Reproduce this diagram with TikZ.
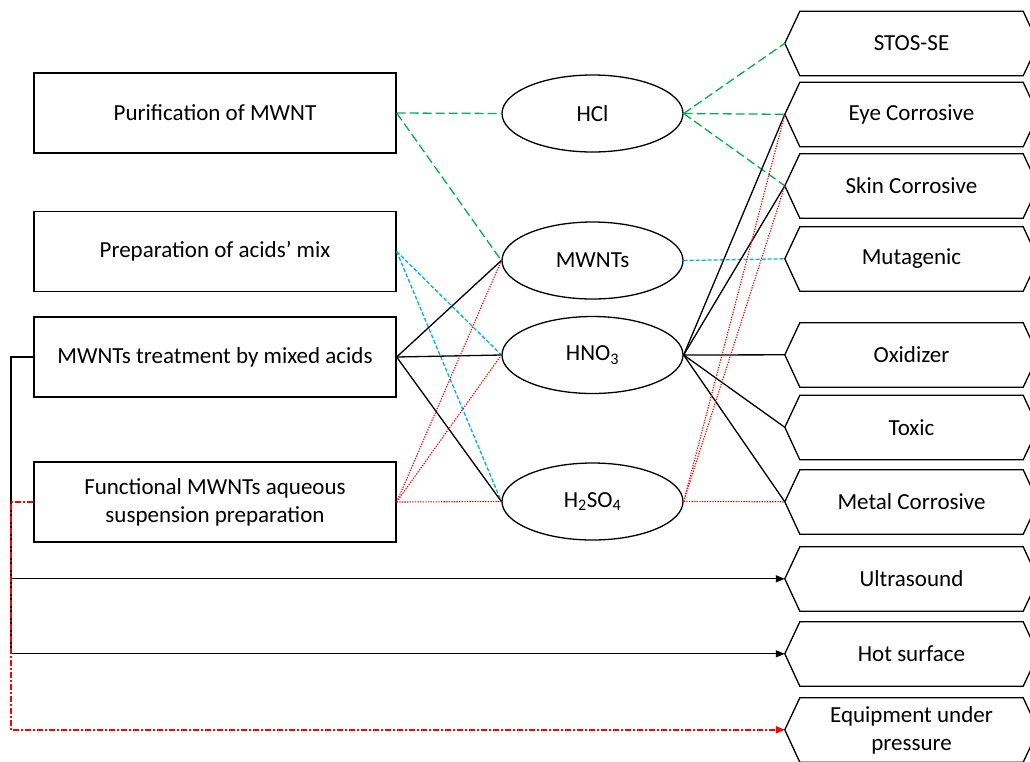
\documentclass[tikz,border=0pt]{standalone}
\usepackage{fontspec}
\setmainfont{Carlito}
\usetikzlibrary{arrows.meta,shapes.geometric}

\definecolor{linkgreen}{HTML}{00B050}
\definecolor{linkblue}{HTML}{00B0F0}
\definecolor{linkred}{HTML}{FF0000}

\begin{document}
\begin{tikzpicture}[x=1pt,y=-1pt,
  every node/.style={font=\fontsize{23}{28}\selectfont},
  stepbox/.style={draw, line width=1.3pt, minimum width=362pt, minimum height=80pt,
    inner sep=0pt, align=center},
  agent/.style={draw, ellipse, line width=1.3pt, minimum width=181pt,
    minimum height=77pt, inner sep=0pt},
  hazard/.style={minimum width=223pt, minimum height=64pt, inner sep=0pt, align=center},
  hexline/.style={line width=1.3pt, line join=miter},
  solidlink/.style={line width=1.3pt},
  greenlink/.style={linkgreen, line width=1.3pt, dash pattern=on 9pt off 4pt},
  bluelink/.style={linkblue, line width=1.3pt, dash pattern=on 4pt off 2pt},
  redlink/.style={linkred, line width=1.1pt, dash pattern=on 1.3pt off 1.3pt},
  redchain/.style={linkred, line width=2pt, dash pattern=on 6pt off 2pt on 2pt off 2pt},
  tip/.style={-{Triangle[length=9pt,width=7pt]}}]

\useasboundingbox (0,0) rectangle (1030,761);
\clip (0,0) rectangle (1030,761);

% process steps
\node[stepbox] (purif) at (215,113)   {Purification of MWNT};
\node[stepbox] (prep)  at (215,251.5) {Preparation of acids’ mix};
\node[stepbox] (treat) at (215,357)   {MWNTs treatment by mixed acids};
\node[stepbox] (func)  at (215,502)   {Functional MWNTs aqueous\\suspension preparation};

% chemical agents
\node[agent] (hcl)   at (592.5,113.5) {HCl};
\node[agent] (mwnt)  at (592.5,260.5) {MWNTs};
\node[agent] (hno)   at (592.5,355)   {HNO\textsubscript{3}};
\node[agent] (hso)   at (592.5,501.5) {H\textsubscript{2}SO\textsubscript{4}};

% hazards (hexagonal tags)
\foreach \n/\y/\t in {stos/43.5/STOS-SE, eye/114.5/Eye Corrosive,
    skin/186/Skin Corrosive, mut/259/Mutagenic, oxi/355/Oxidizer,
    tox/427.5/Toxic, metal/502/Metal Corrosive, ultra/579/Ultrasound,
    hot/654/Hot surface, equip/730/Equipment under\\pressure}{
  \node[hazard] (\n) at (911.5,\y) {\t};
  \draw[hexline] (\n.north west) -- ++(-15,32) coordinate (\n-in)
    -- (\n.south west) -- (\n.south east) -- ++(15,-32) -- (\n.north east) -- cycle;
}

% purification route
\draw[greenlink] (purif.east) -- (hcl.west);
\draw[greenlink] (purif.east) -- (mwnt.west);
\draw[greenlink] (hcl.east) -- (stos-in);
\draw[greenlink] (hcl.east) -- (eye-in);
\draw[greenlink] (hcl.east) -- (skin-in);

% acid mix preparation
\draw[bluelink] (prep.east) -- (hno.west);
\draw[bluelink] (prep.east) -- (hso.west);
\draw[bluelink] (mwnt.east) -- (mut-in);

% acid treatment
\draw[solidlink] (treat.east) -- (mwnt.west);
\draw[solidlink] (treat.east) -- (hno.west);
\draw[solidlink] (treat.east) -- (hso.west);
\foreach \h in {eye,skin,oxi,tox,metal}
  \draw[solidlink] (hno.east) -- (\h-in);

% aqueous suspension
\draw[redlink] (func.east) -- (mwnt.west);
\draw[redlink] (func.east) -- (hno.west);
\draw[redlink] (func.east) -- (hso.west);
\foreach \h in {eye,skin,metal}
  \draw[redlink] (hso.east) -- (\h-in);

% physical hazards fed from the left rail
\coordinate (rail) at (11,0);
\draw[solidlink,tip] (treat.west) -| (rail |- hot-in) -- (hot-in);
\draw[solidlink,tip] (rail |- ultra-in) -- (ultra-in);
\draw[redchain,tip] (func.west) -| (rail |- equip-in) -- (equip-in);

\end{tikzpicture}
\end{document}
